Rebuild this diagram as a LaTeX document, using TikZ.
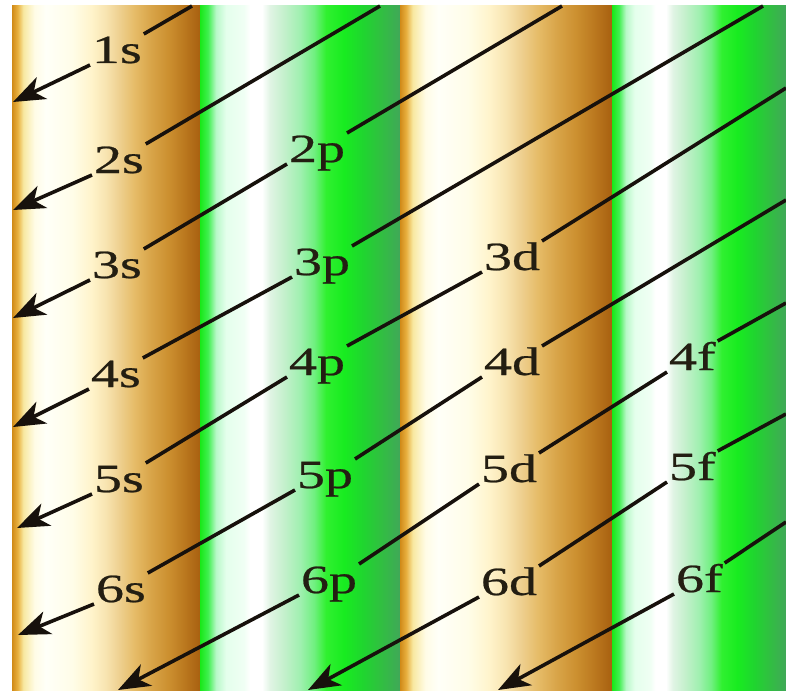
\documentclass[tikz,border=0pt]{standalone}
\usepackage{fontspec}
\newfontfamily\orbfont[FakeStretch=1.4, FakeBold=0.6]{Liberation Serif}
\usetikzlibrary{arrows.meta}

\definecolor{textdark}{HTML}{231E12}
\definecolor{linedark}{HTML}{17110C}

% Gold band colours, left to right
\definecolor{gA}{HTML}{D08A18}
\definecolor{gB}{HTML}{E8B040}
\definecolor{gC}{HTML}{F8E8A0}
\definecolor{gD}{HTML}{FFFCE6}
\definecolor{gE}{HTML}{FFFFF8}
\definecolor{gF}{HTML}{FFFDE8}
\definecolor{gG}{HTML}{FFF4CC}
\definecolor{gH}{HTML}{F8E4B0}
\definecolor{gI}{HTML}{EED090}
\definecolor{gJ}{HTML}{E6BC68}
\definecolor{gK}{HTML}{D8A448}
\definecolor{gL}{HTML}{CC9030}
\definecolor{gM}{HTML}{BC7A20}
\definecolor{gN}{HTML}{A86010}

% Green band colours, left to right
\definecolor{nA}{HTML}{18E818}
\definecolor{nB}{HTML}{40F050}
\definecolor{nC}{HTML}{B8F8C8}
\definecolor{nD}{HTML}{E4FFEC}
\definecolor{nE}{HTML}{F0FFF4}
\definecolor{nF}{HTML}{FFFFFF}
\definecolor{nG}{HTML}{E0F4E4}
\definecolor{nH}{HTML}{C4F0CC}
\definecolor{nI}{HTML}{A0F0B0}
\definecolor{nJ}{HTML}{70F080}
\definecolor{nK}{HTML}{30F030}
\definecolor{nL}{HTML}{18EC20}
\definecolor{nM}{HTML}{20D430}
\definecolor{nN}{HTML}{30C040}
\definecolor{nO}{HTML}{40A858}

\pgfdeclarehorizontalshading{goldband}{100bp}{%
  color(0bp)=(gA); color(25bp)=(gA); color(26.5bp)=(gB); color(28bp)=(gC);
  color(31bp)=(gD); color(34bp)=(gE); color(41bp)=(gF); color(46bp)=(gG);
  color(50bp)=(gH); color(53.5bp)=(gI); color(57.5bp)=(gJ); color(62bp)=(gK);
  color(66.5bp)=(gL); color(70.5bp)=(gM); color(75bp)=(gN); color(100bp)=(gN)}

\pgfdeclarehorizontalshading{greenband}{100bp}{%
  color(0bp)=(nA); color(25bp)=(nA); color(27bp)=(nB); color(29bp)=(nC);
  color(31.5bp)=(nD); color(36bp)=(nE); color(37.5bp)=(nF); color(40.5bp)=(nF);
  color(42.5bp)=(nG); color(46bp)=(nH); color(50bp)=(nI); color(53.5bp)=(nJ);
  color(56.5bp)=(nK); color(61bp)=(nL); color(66bp)=(nM); color(70bp)=(nN);
  color(75bp)=(nO); color(100bp)=(nO)}

\begin{document}
\begin{tikzpicture}[
    x=1pt, y=-1pt,
    orbital/.style={font={\orbfont\fontsize{40}{44}\selectfont}, text=textdark,
                    inner sep=2pt, outer sep=0pt, text height=27pt, text depth=0pt,
                    anchor=base west},
    orbit line/.style={line width=3.6pt, draw=linedark},
    orbit arrow/.style={orbit line, -{Stealth[length=32pt, width=24pt, inset=9pt]}}
]
    \useasboundingbox (0,0) rectangle (786,690);
    \fill[white] (0,0) rectangle (786,690);

    % Bands
    \shade[shading=goldband] (12,6) rectangle (200,690);
    \shade[shading=greenband] (200,6) rectangle (400,690);
    \shade[shading=goldband] (400,6) rectangle (612,690);
    \shade[shading=greenband] (612,6) rectangle (786,690);

    % Sublevels
    \node[orbital] (s1) at (90,63) {1s};
    \node[orbital] (s2) at (92,173) {2s};
    \node[orbital] (s3) at (90,278) {3s};
    \node[orbital] (s4) at (89,387) {4s};
    \node[orbital] (s5) at (92,492) {5s};
    \node[orbital] (s6) at (94,602) {6s};

    \node[orbital] (p2) at (287,162) {2p};
    \node[orbital] (p3) at (292,275) {3p};
    \node[orbital] (p4) at (287,375) {4p};
    \node[orbital] (p5) at (295,488) {5p};
    \node[orbital] (p6) at (299,593) {6p};

    \node[orbital] (d3) at (482,270) {3d};
    \node[orbital] (d4) at (482,375) {4d};
    \node[orbital] (d5) at (479,482) {5d};
    \node[orbital] (d6) at (479,595) {6d};

    \node[orbital] (f4) at (667,370) {4f};
    \node[orbital] (f5) at (667,480) {5f};
    \node[orbital] (f6) at (674,592) {6f};

    % Free ends of the diagonals
    \coordinate (st1) at (192,6);
    \coordinate (st2) at (380,6);
    \coordinate (st3) at (562,6);
    \coordinate (st4) at (763,6);
    \coordinate (st5) at (786,88);
    \coordinate (st6) at (786,200);
    \coordinate (st7) at (786,303);
    \coordinate (st8) at (786,414);
    \coordinate (st9) at (786,522);

    \coordinate (tip1) at (13,102);
    \coordinate (tip2) at (13,210);
    \coordinate (tip3) at (13,318);
    \coordinate (tip4) at (13,427);
    \coordinate (tip5) at (17,528);
    \coordinate (tip6) at (18,635);
    \coordinate (tip7) at (118,690);
    \coordinate (tip8) at (308,690);
    \coordinate (tip9) at (498,690);

    % Diagonals
    \draw[orbit line] (st1) -- (s1.north east);
    \draw[orbit arrow] (s1.south west) -- (tip1);

    \draw[orbit line] (st2) -- (s2.north east);
    \draw[orbit arrow] (s2.south west) -- (tip2);

    \draw[orbit line] (st3) -- (p2.north east);
    \draw[orbit line] (p2.south west) -- (s3.north east);
    \draw[orbit arrow] (s3.south west) -- (tip3);

    \draw[orbit line] (st4) -- (p3.north east);
    \draw[orbit line] (p3.south west) -- (s4.north east);
    \draw[orbit arrow] (s4.south west) -- (tip4);

    \draw[orbit line] (st5) -- (d3.north east);
    \draw[orbit line] (d3.south west) -- (p4.north east);
    \draw[orbit line] (p4.south west) -- (s5.north east);
    \draw[orbit arrow] (s5.south west) -- (tip5);

    \draw[orbit line] (st6) -- (d4.north east);
    \draw[orbit line] (d4.south west) -- (p5.north east);
    \draw[orbit line] (p5.south west) -- (s6.north east);
    \draw[orbit arrow] (s6.south west) -- (tip6);

    \draw[orbit line] (st7) -- (f4.north east);
    \draw[orbit line] (f4.south west) -- (d5.north east);
    \draw[orbit line] (d5.south west) -- (p6.north east);
    \draw[orbit arrow] (p6.south west) -- (tip7);

    \draw[orbit line] (st8) -- (f5.north east);
    \draw[orbit line] (f5.south west) -- (d6.north east);
    \draw[orbit arrow] (d6.south west) -- (tip8);

    \draw[orbit line] (st9) -- (f6.north east);
    \draw[orbit arrow] (f6.south west) -- (tip9);
\end{tikzpicture}
\end{document}
